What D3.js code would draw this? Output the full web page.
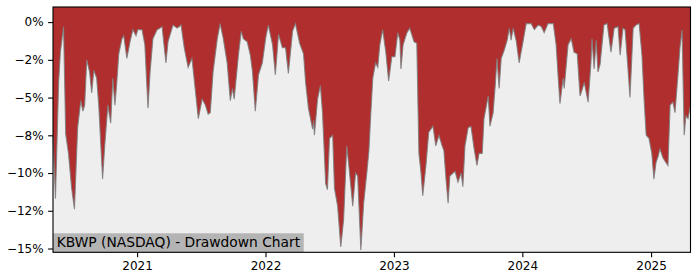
<!DOCTYPE html>
<html>
<head>
<meta charset="utf-8">
<script src="https://cdn.jsdelivr.net/npm/d3@7"></script>
<style>
  body { margin: 0; background: #ffffff; }
  text { font-family: "DejaVu Sans", sans-serif; fill: #000; }
</style>
</head>
<body>
<div id="chart"></div>
<script>
// KBWP drawdown (percent below running high)
const dates = [
  "2020-05-07","2020-05-14","2020-05-23","2020-05-28","2020-06-06","2020-06-12","2020-06-20","2020-06-29",
  "2020-07-07","2020-07-16","2020-07-25","2020-07-31","2020-08-05","2020-08-11","2020-08-19","2020-08-25",
  "2020-08-31","2020-09-08","2020-09-14","2020-09-25","2020-10-01","2020-10-10","2020-10-18","2020-10-24",
  "2020-10-30","2020-11-04","2020-11-10","2020-11-19","2020-11-24","2020-12-03","2020-12-12","2020-12-20",
  "2020-12-29","2021-01-03","2021-01-15","2021-01-23","2021-02-01","2021-02-07","2021-02-15","2021-02-27",
  "2021-03-07","2021-03-13","2021-03-24","2021-03-30","2021-04-13","2021-04-25","2021-05-06","2021-05-15",
  "2021-05-26","2021-06-06","2021-06-15","2021-06-24","2021-07-05","2021-07-14","2021-07-22","2021-07-28",
  "2021-08-05","2021-08-17","2021-08-25","2021-09-03","2021-09-14","2021-09-23","2021-09-29","2021-10-04",
  "2021-10-16","2021-10-24","2021-10-30","2021-11-10","2021-11-19","2021-11-25","2021-12-03","2021-12-12",
  "2021-12-23","2022-01-02","2022-01-09","2022-01-21","2022-01-29","2022-02-07","2022-02-18","2022-02-27",
  "2022-03-07","2022-03-19","2022-03-27","2022-04-08","2022-04-19","2022-04-25","2022-05-03","2022-05-15",
  "2022-05-18","2022-05-20","2022-05-29","2022-06-06","2022-06-12","2022-06-21","2022-06-26","2022-07-02",
  "2022-07-11","2022-07-16","2022-07-25","2022-08-03","2022-08-11","2022-08-20","2022-08-25","2022-09-06",
  "2022-09-14","2022-09-20","2022-09-29","2022-10-07","2022-10-16","2022-10-22","2022-10-27","2022-11-02",
  "2022-11-10","2022-11-16","2022-11-22","2022-11-30","2022-12-09","2022-12-17","2022-12-26","2023-01-04",
  "2023-01-12","2023-01-18","2023-01-21","2023-01-27","2023-02-07","2023-02-15","2023-02-27","2023-03-07",
  "2023-03-13","2023-03-19","2023-03-24","2023-04-02","2023-04-10","2023-04-22","2023-04-30","2023-05-09",
  "2023-05-18","2023-05-23","2023-05-29","2023-06-04","2023-06-09","2023-06-18","2023-06-24","2023-07-02",
  "2023-07-11","2023-07-16","2023-07-22","2023-07-31","2023-08-08","2023-08-17","2023-08-25","2023-08-31",
  "2023-09-09","2023-09-14","2023-09-26","2023-10-01","2023-10-10","2023-10-16","2023-10-21","2023-10-27",
  "2023-11-02","2023-11-10","2023-11-19","2023-11-25","2023-11-30","2023-12-06","2023-12-15","2023-12-23",
  "2024-01-03","2024-01-12","2024-01-26","2024-02-04","2024-02-15","2024-02-24","2024-03-03","2024-03-14",
  "2024-03-29","2024-04-06","2024-04-12","2024-04-17","2024-04-26","2024-04-29","2024-05-10","2024-05-19",
  "2024-05-27","2024-06-05","2024-06-13","2024-06-16","2024-06-25","2024-07-06","2024-07-14","2024-07-17",
  "2024-07-23","2024-07-29","2024-08-03","2024-08-09","2024-08-20","2024-08-29","2024-09-09","2024-09-18",
  "2024-09-29","2024-10-05","2024-10-13","2024-10-19","2024-10-27","2024-11-02","2024-11-11","2024-11-19",
  "2024-11-28","2024-12-06","2024-12-12","2024-12-18","2024-12-26","2025-01-03","2025-01-09","2025-01-15",
  "2025-01-21","2025-01-26","2025-02-04","2025-02-12","2025-02-18","2025-02-24","2025-03-04","2025-03-10",
  "2025-03-19","2025-03-24","2025-03-30","2025-04-05","2025-04-10","2025-04-16","2025-04-23"
];

const drawdown = [
  -7.5,-11.7,-4.0,-2.0,-0.3,-7.4,-8.7,-11.0,
  -12.4,-7.0,-5.2,-5.9,-5.5,-2.5,-3.3,-4.7,
  -3.2,-3.7,-5.5,-10.4,-8.2,-5.5,-6.7,-3.7,
  -5.5,-4.1,-2.1,-1.1,-0.9,-2.4,-1.3,-0.5,
  -0.9,-0.5,-0.5,-1.5,-5.7,-3.3,-1.1,-0.5,
  -0.4,-0.3,-2.7,-1.3,-0.2,-0.4,-0.2,-1.7,
  -3.0,-2.4,-4.4,-6.4,-5.1,-5.5,-6.1,-6.0,
  -3.3,-1.1,-0.1,-1.1,-2.7,-5.2,-4.4,-5.1,
  -2.2,-0.6,-1.1,-1.3,-2.2,-3.3,-5.9,-3.5,
  -2.7,-1.0,-0.2,-1.5,-3.5,-0.8,-1.7,-1.7,
  -3.4,-0.6,-0.1,-1.4,-2.1,-4.0,-5.7,-7.1,
  -6.5,-7.5,-5.1,-4.2,-6.0,-10.7,-11.1,-7.7,
  -7.5,-11.0,-12.2,-14.9,-13.1,-8.2,-9.3,-12.2,
  -10.0,-10.2,-15.1,-12.0,-10.0,-8.5,-6.2,-3.7,
  -2.7,-3.0,-1.5,-0.5,-2.0,-3.9,-2.3,-2.3,
  -0.7,-1.2,-3.1,-1.5,-0.7,-0.4,-1.3,-1.4,
  -8.7,-10.0,-11.5,-9.5,-7.3,-6.9,-8.2,-7.5,
  -8.2,-8.5,-10.4,-12.0,-10.2,-10.0,-9.9,-10.6,
  -10.0,-10.9,-8.2,-7.0,-6.9,-8.4,-9.5,-8.7,
  -8.7,-6.4,-4.9,-6.9,-6.0,-4.2,-2.4,-4.4,
  -2.4,-1.9,-1.2,-0.4,-1.2,-0.4,-1.3,-2.7,
  -1.3,-0.1,-0.1,-0.5,-0.2,-0.3,-0.7,-0.1,
  -0.1,-1.5,-3.7,-5.4,-3.7,-4.4,-1.5,-1.1,
  -2.0,-2.1,-4.9,-4.7,-4.0,-5.3,-2.7,-1.1,
  -3.1,-1.2,-3.3,-2.8,-0.2,-0.1,-2.0,-0.4,
  -0.3,-2.2,-0.4,-0.5,-3.0,-5.0,-0.4,-0.2,
  -0.1,-2.2,-5.1,-7.5,-7.7,-8.7,-10.4,-9.3,
  -8.9,-8.4,-9.0,-9.3,-9.5,-5.5,-5.3,-6.0,
  -3.3,-1.7,-0.5,-7.5,-6.2,-6.4,-5.5
];

const yTicks = [0, -2.5, -5, -7.5, -10, -12.5, -15];
const yTickLabels = ["0%", "\u22122%", "\u22125%", "\u22128%", "\u221210%", "\u221212%", "\u221215%"];
const xTickYears = [2021, 2022, 2023, 2024, 2025];
const chartLabel = "KBWP (NASDAQ) - Drawdown Chart";

const width = 700, height = 280;
const margin = {top: 7, right: 9.5, bottom: 27.7, left: 53};
const plotW = width - margin.left - margin.right;
const plotH = height - margin.top - margin.bottom;

const parse = d3.timeParse("%Y-%m-%d");
let data = dates.map((d, i) => ({date: parse(d), value: drawdown[i]}));

let x = d3.scaleTime()
    .domain(d3.extent(data, d => d.date))
    .range([0, plotW]);

let y = d3.scaleLinear()
    .domain([d3.min(drawdown) * 1.01, 1])
    .range([plotH, 0]);

let svg = d3.select("#chart")
    .append("svg")
    .attr("width", width)
    .attr("height", height)
    .append("g")
    .attr("transform", `translate(${margin.left}, ${margin.top})`);

// red everywhere above the curve, light gray below it
svg.append("rect")
    .attr("width", plotW)
    .attr("height", plotH)
    .attr("fill", "#b02e2e");

svg.append("path")
    .datum(data)
    .attr("fill", "#eeeeee")
    .attr("d", d3.area()
        .x(d => x(d.date))
        .y0(plotH)
        .y1(d => y(d.value)));

svg.append("path")
    .datum(data)
    .attr("fill", "none")
    .attr("stroke", "#7d7d7d")
    .attr("stroke-width", 1.1)
    .attr("stroke-opacity", 0.85)
    .attr("d", d3.line()
        .x(d => x(d.date))
        .y(d => y(d.value)));

// label box in the lower left corner
let label = svg.append("g");
let labelBg = label.append("rect").attr("fill", "#b4b4b4");
let labelText = label.append("text")
    .attr("x", 3.7)
    .attr("y", plotH - 5.8)
    .style("font-size", "13.8px")
    .text(chartLabel);
let tw = labelText.node().getComputedTextLength();
labelBg
    .attr("x", 0)
    .attr("y", plotH - 19)
    .attr("width", tw + 7.3)
    .attr("height", 19);

// axes
let yAxis = svg.append("g")
    .call(d3.axisLeft(y)
        .tickValues(yTicks)
        .tickFormat((d, i) => yTickLabels[i])
        .tickSize(4.9)
        .tickPadding(4.5));

let xAxis = svg.append("g")
    .attr("transform", `translate(0, ${plotH})`)
    .call(d3.axisBottom(x)
        .tickValues(xTickYears.map(yr => new Date(yr, 0, 1)))
        .tickFormat(d3.timeFormat("%Y"))
        .tickSize(4.9)
        .tickPadding(4.2));

[yAxis, xAxis].forEach(a => {
    a.select(".domain").remove();
    a.selectAll(".tick line").attr("stroke", "#000").attr("stroke-width", 1.1);
    a.selectAll(".tick text")
        .style("font-size", "12px")
        .style("font-family", "'DejaVu Sans', sans-serif")
        .attr("fill", "#000");
});

// spines
svg.append("rect")
    .attr("width", plotW)
    .attr("height", plotH)
    .attr("fill", "none")
    .attr("stroke", "#000")
    .attr("stroke-width", 1.1);
</script>
</body>
</html>
